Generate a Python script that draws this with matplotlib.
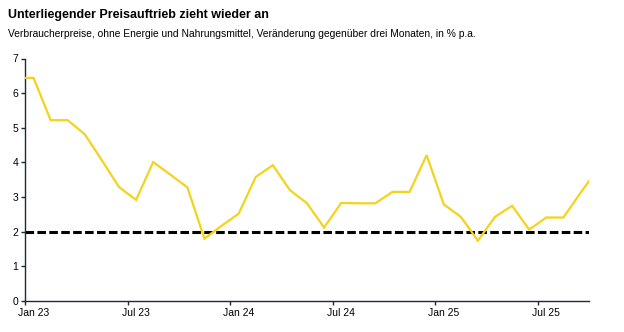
import matplotlib
matplotlib.use("Agg")
import matplotlib.pyplot as plt

plt.rcParams['font.family'] = ['Liberation Sans', 'DejaVu Sans']

# monthly values, Dec 22 .. Oct 25 (first and last are clipped by the axis)
months = ["Dez 22",
          "Jan 23", "Feb 23", "Mär 23", "Apr 23", "Mai 23", "Jun 23",
          "Jul 23", "Aug 23", "Sep 23", "Okt 23", "Nov 23", "Dez 23",
          "Jan 24", "Feb 24", "Mär 24", "Apr 24", "Mai 24", "Jun 24",
          "Jul 24", "Aug 24", "Sep 24", "Okt 24", "Nov 24", "Dez 24",
          "Jan 25", "Feb 25", "Mär 25", "Apr 25", "Mai 25", "Jun 25",
          "Jul 25", "Aug 25", "Sep 25", "Okt 25"]
core_3m = [6.44,
           6.44, 5.22, 5.22, 4.81, 4.06, 3.29,
           2.92, 4.01, 3.65, 3.28, 1.80, 2.17,
           2.52, 3.58, 3.92, 3.20, 2.82, 2.12,
           2.83, 2.82, 2.82, 3.15, 3.15, 4.21,
           2.79, 2.43, 1.74, 2.43, 2.75, 2.06,
           2.41, 2.41, 3.12, 3.80]
target = 2.0
tick_labels = ["Jan 23", "Jul 23", "Jan 24", "Jul 24", "Jan 25", "Jul 25"]

# months centred in their slot; index 0 = Dec 22
x = [i - 1 + 0.5 for i in range(len(months))]
tick_pos = [6 * k for k in range(len(tick_labels))]
label_pos = [p + 0.5 for p in tick_pos]

fig = plt.figure(figsize=(6.24, 3.32), dpi=100)
ax = fig.add_axes([25 / 624, 1 - 301 / 332, (589 - 25) / 624, (301 - 58.5) / 332])

ax.plot(x, core_3m, color='#F4D31C', lw=1.6, solid_joinstyle='miter', zorder=3)
ax.axhline(target, color='black', lw=2.2, linestyle=(0, (2.8, 1.1)), zorder=2)

ax.set_xlim(0, 33)
ax.set_ylim(0, 7)
ax.set_yticks(range(0, 8))
# tick marks on slot boundaries, labels centred on the month
ax.set_xticks(tick_pos)
ax.set_xticklabels([])
ax.set_xticks(label_pos, minor=True)
ax.set_xticklabels(tick_labels, minor=True)

for s in ['top', 'right']:
    ax.spines[s].set_visible(False)
for s in ['left', 'bottom']:
    ax.spines[s].set_color('#1f2a30')
    ax.spines[s].set_linewidth(1.0)
ax.tick_params(axis='both', labelsize=7.5, color='#1f2a30', length=3, width=1, pad=2)
ax.tick_params(axis='x', which='minor', length=0, labelsize=7.5, pad=5)

fig.text(8 / 624, 1 - 15 / 332, "Unterliegender Preisauftrieb zieht wieder an",
         fontsize=9, fontweight='bold', va='center', ha='left')
fig.text(8 / 624, 1 - 34 / 332,
         "Verbraucherpreise, ohne Energie und Nahrungsmittel, Veränderung gegenüber drei Monaten, in % p.a.",
         fontsize=7.35, va='center', ha='left')

fig.savefig("out.png", dpi=100)
